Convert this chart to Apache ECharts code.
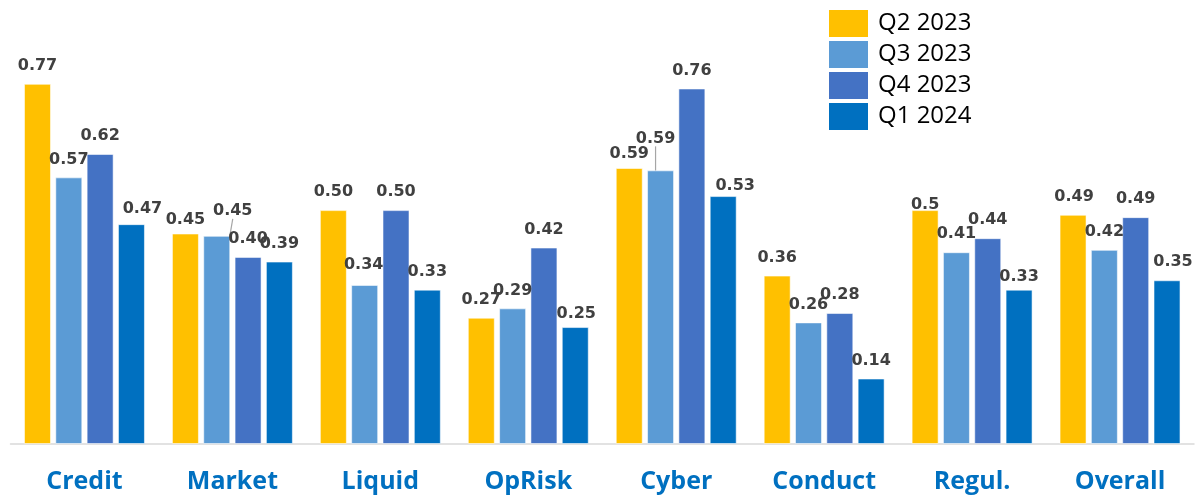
<!DOCTYPE html>
<html>
<head>
<meta charset="utf-8">
<script src="https://cdn.jsdelivr.net/npm/echarts@6/dist/echarts.min.js"></script>
<style>
  html, body { margin: 0; padding: 0; background: #fff; }
  #chart { width: 1195px; height: 497px; }
</style>
</head>
<body>
<div id="chart"></div>
<script>
// categories and quarters
var categories = ['Credit', 'Market', 'Liquid', 'OpRisk', 'Cyber', 'Conduct', 'Regul.', 'Overall'];
var quarters = ['Q2 2023', 'Q3 2023', 'Q4 2023', 'Q1 2024'];

// values
var q2Values = [0.77, 0.45, 0.50, 0.27, 0.59, 0.36, 0.50, 0.49];
var q3Values = [0.57, 0.445, 0.34, 0.29, 0.585, 0.26, 0.41, 0.415];
var q4Values = [0.62, 0.40, 0.50, 0.42, 0.76, 0.28, 0.44, 0.485];
var q1Values = [0.47, 0.39, 0.33, 0.25, 0.53, 0.14, 0.33, 0.35];

// data label texts as printed
var q2Labels = ['0.77', '0.45', '0.50', '0.27', '0.59', '0.36', '0.5', '0.49'];
var q3Labels = ['0.57', '0.45', '0.34', '0.29', '0.59', '0.26', '0.41', '0.42'];
var q4Labels = ['0.62', '0.40', '0.50', '0.42', '0.76', '0.28', '0.44', '0.49'];
var q1Labels = ['0.47', '0.39', '0.33', '0.25', '0.53', '0.14', '0.33', '0.35'];

var colors = ['#FFC000', '#5B9BD5', '#4472C4', '#0070C0'];

// hand-placed label nudges (dx, dy) by category index
var labelShift = [
    {1: [0, 4], 4: [0, 4], 6: [0, 13], 7: [1, 0]},
    {1: [16, -7], 2: [-1, -2], 4: [-5, -14]},
    {},
    {0: [11, 3], 3: [1, 5], 4: [12, 8], 6: [0, 5], 7: [6, 0]}
];
// labels that got a leader line: [series, category]
var leaderLines = [[1, 1], [1, 4]];

var allValues = [q2Values, q3Values, q4Values, q1Values];
var allLabels = [q2Labels, q3Labels, q4Labels, q1Labels];

function hasLeader(s, i) {
    for (var k = 0; k < leaderLines.length; k++) {
        if (leaderLines[k][0] === s && leaderLines[k][1] === i) return true;
    }
    return false;
}

var myChart = echarts.init(document.getElementById('chart'));

var series = [];
for (var s = 0; s < quarters.length; s++) {
    (function (s) {
        var items = [];
        for (var i = 0; i < allValues[s].length; i++) {
            items.push({
                value: allValues[s][i],
                labelLine: {show: hasLeader(s, i)}
            });
        }
        series.push({
            name: quarters[s],
            type: 'bar',
            data: items,
            barWidth: 27,
            barGap: '16%',
            itemStyle: {
                color: colors[s],
                borderColor: 'rgba(255,255,255,0.55)',
                borderWidth: 1
            },
            label: {
                show: true,
                position: 'top',
                distance: 10,
                color: '#404040',
                fontFamily: 'DejaVu Sans',
                fontWeight: 'bold',
                fontSize: 16,
                formatter: function (p) {
                    return allLabels[s][p.dataIndex];
                }
            },
            labelLine: {
                show: false,
                lineStyle: {color: '#a6a6a6', width: 1.2}
            },
            labelLayout: function (p) {
                var d = labelShift[s][p.dataIndex];
                if (!d) return {};
                return {dx: d[0], dy: d[1]};
            }
        });
    })(s);
}

myChart.setOption({
    animation: false,
    backgroundColor: '#fff',
    grid: {left: 10.5, right: 1, top: 23, bottom: 53, containLabel: false},
    legend: {
        orient: 'vertical',
        left: 829,
        top: 10,
        padding: 0,
        itemWidth: 39,
        itemHeight: 27,
        itemGap: 4,
        icon: 'rect',
        itemStyle: {borderWidth: 0},
        data: quarters,
        textStyle: {
            fontFamily: 'Open Sans',
            fontSize: 24,
            color: '#000',
            padding: [0, 0, 0, 5]
        }
    },
    xAxis: {
        type: 'category',
        data: categories,
        axisLine: {show: true, lineStyle: {color: '#d9d9d9', width: 1.5}},
        axisTick: {show: false},
        axisLabel: {
            margin: 25,
            color: '#0070C0',
            fontFamily: 'Open Sans',
            fontWeight: 'bold',
            fontSize: 25
        }
    },
    yAxis: {
        type: 'value',
        min: 0,
        max: 0.9,
        show: false,
        splitLine: {show: false}
    },
    series: series
});
</script>
</body>
</html>
